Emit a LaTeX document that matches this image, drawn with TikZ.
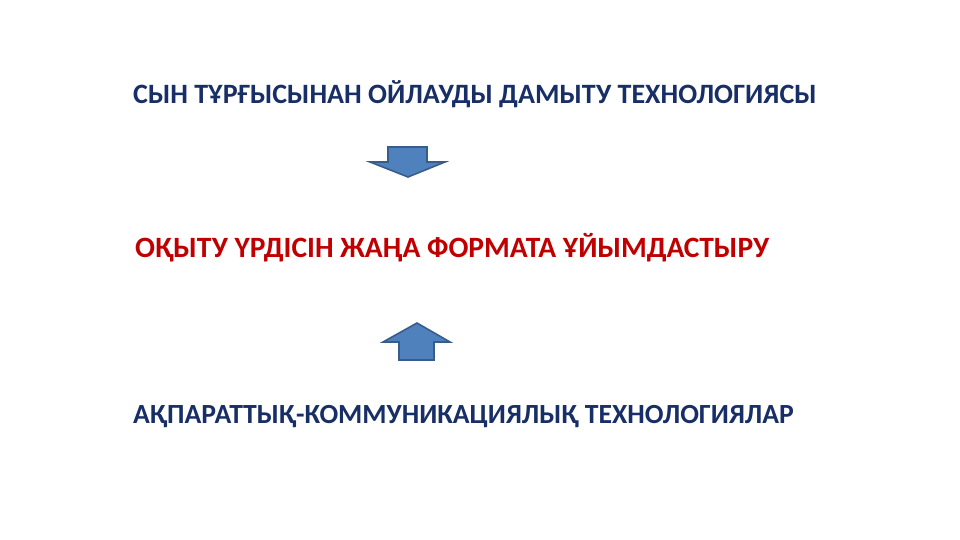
\documentclass[tikz,border=0pt]{standalone}
\usepackage{fontspec}
\setmainfont{Carlito}
\definecolor{navy}{HTML}{172F66}
\definecolor{darkred}{HTML}{C00000}
\definecolor{arrowfill}{HTML}{4F81BD}
\definecolor{arrowline}{HTML}{385D8A}
\begin{document}
\begin{tikzpicture}[x=1pt,y=-1pt,
  title/.style={anchor=base west,inner sep=0pt,font=\bfseries},
  blockarrow/.style={fill=arrowfill,draw=arrowline,line width=1.6pt,line join=miter}]
\useasboundingbox (0,0) rectangle (960,540);
\node[title,text=navy,font=\fontsize{28}{33}\selectfont\bfseries] (top) at (133,104) {СЫН ТҰРҒЫСЫНАН ОЙЛАУДЫ ДАМЫТУ ТЕХНОЛОГИЯСЫ};
\node[title,text=darkred,font=\fontsize{29.5}{34}\selectfont\bfseries] (mid) at (135,257) {ОҚЫТУ ҮРДІСІН ЖАҢА ФОРМАТА ҰЙЫМДАСТЫРУ};
\node[title,text=navy,font=\fontsize{27.7}{33}\selectfont\bfseries] (bot) at (133,423) {АҚПАРАТТЫҚ-КОММУНИКАЦИЯЛЫҚ ТЕХНОЛОГИЯЛАР};
\draw[blockarrow] (388,147) -- (427,147) -- (427,162) -- (445,162) -- (408,177) -- (370,162) -- (388,162) -- cycle;
\draw[blockarrow] (399,360) -- (434,360) -- (434,342) -- (450,342) -- (417,323) -- (383,342) -- (399,342) -- cycle;
\end{tikzpicture}
\end{document}
